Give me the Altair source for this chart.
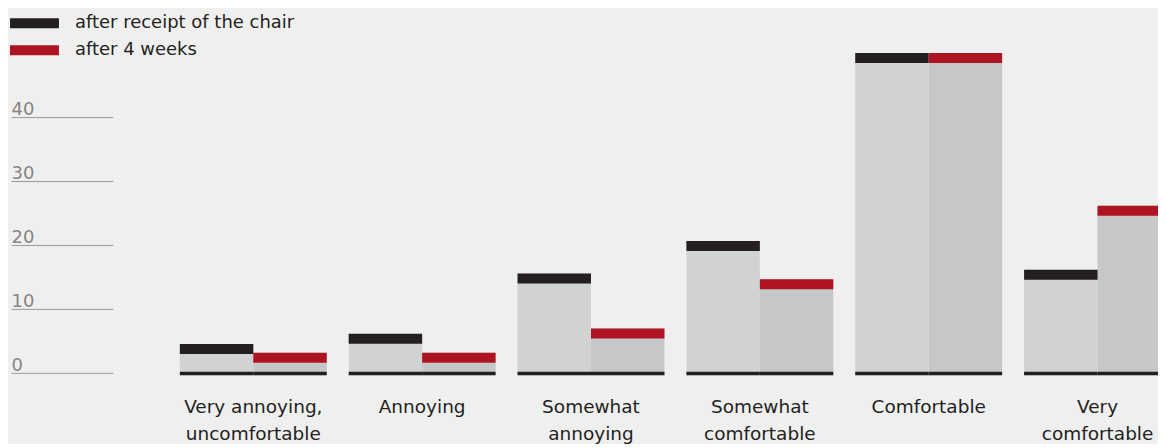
import altair as alt
import pandas as pd

# ---- data ----
categories = [
    "Very annoying,|uncomfortable",
    "Annoying",
    "Somewhat|annoying",
    "Somewhat|comfortable",
    "Comfortable",
    "Very|comfortable",
]
periods = ["after receipt of the chair", "after 4 weeks"]
after_receipt = [4.5, 6.1, 15.5, 20.6, 50.0, 16.1]
after_4_weeks = [3.1, 3.1, 6.9, 14.6, 50.0, 26.1]
y_ticks = [0, 10, 20, 30, 40]

# ---- styles ----
cap_colors = ["#231f20", "#ae1421"]
bar_grays = ["#d1d2d4", "#c6c7c9"]
BG = "#efefef"
FONT = "DejaVu Sans"
TEXT = "#231f20"

rows = []
for cat, a, b in zip(categories, after_receipt, after_4_weeks):
    rows.append({"category": cat, "period": periods[0], "value": a})
    rows.append({"category": cat, "period": periods[1], "value": b})
df = pd.DataFrame(rows)

PX_PER_UNIT = 6.4
Y_MIN = -0.6
Y_MAX = 57
PLOT_W = 1046
PLOT_H = (Y_MAX - Y_MIN) * PX_PER_UNIT
CAP = 10 / PX_PER_UNIT

x = alt.X(
    "category:N",
    sort=categories,
    title=None,
    scale=alt.Scale(range=[67, 1059], paddingInner=0.13, paddingOuter=0),
    axis=alt.Axis(
        domain=False,
        ticks=False,
        labelAngle=0,
        labelPadding=21,
        labelFontSize=18.5,
        labelFont=FONT,
        labelColor=TEXT,
        labelLineHeight=27,
        labelBaseline="top",
        labelLimit=300,
        labelExpr="split(datum.label, '|')",
    ),
)
xo = alt.XOffset("period:N", sort=periods, scale=alt.Scale(paddingInner=0, paddingOuter=0))

y_scale = alt.Scale(domain=[Y_MIN, Y_MAX], nice=False, zero=False)

base = alt.Chart(df).encode(x=x, xOffset=xo)

gray = base.transform_calculate(low="-0.4").mark_bar(clip=True).encode(
    y=alt.Y(
        "value:Q",
        scale=y_scale,
        title=None,
        axis=alt.Axis(
            values=y_ticks,
            domain=False,
            grid=False,
            ticks=True,
            tickSize=102,
            tickColor="#9a9a9a",
            tickWidth=1,
            labelAlign="left",
            labelBaseline="alphabetic",
            labelPadding=0,
            labelOffset=-2,
            labelFontSize=18,
            labelFont=FONT,
            labelColor="#858585",
        ),
    ),
    y2=alt.Y2("low:Q"),
    color=alt.Color("period:N", sort=periods,
                    scale=alt.Scale(domain=periods, range=bar_grays), legend=None),
)

baseline = base.transform_calculate(b_top="0.15", b_low="-0.4").mark_bar(
    clip=True, color="#231f20"
).encode(y=alt.Y("b_top:Q", scale=y_scale), y2=alt.Y2("b_low:Q"))

caps = base.transform_calculate(cap_low=f"datum.value - {CAP}").mark_bar(clip=True).encode(
    y=alt.Y("value:Q", scale=y_scale),
    y2=alt.Y2("cap_low:Q"),
    color=alt.Color(
        "period:N",
        sort=periods,
        scale=alt.Scale(domain=periods, range=cap_colors),
        legend=alt.Legend(
            title=None,
            orient="none",
            legendX=-87.5,
            legendY=6,
            symbolType="M-4.9,-1H4.9V1H-4.9Z",
            symbolSize=100,
            symbolStrokeWidth=0,
            symbolOpacity=1,
            labelFontSize=18,
            labelFont=FONT,
            labelColor=TEXT,
            labelOffset=31.5,
            rowPadding=9,
            labelLimit=400,
        ),
    ),
)

chart = (
    alt.layer(gray, baseline, caps)
    .resolve_scale(color="independent")
    .properties(
        width=PLOT_W,
        height=PLOT_H,
        padding={"left": 2, "top": 0, "right": 0, "bottom": 0},
        background=BG,
    )
    .configure_view(strokeWidth=0)
)

chart.save("out.html", embed_options={"renderer": "svg", "actions": False})
